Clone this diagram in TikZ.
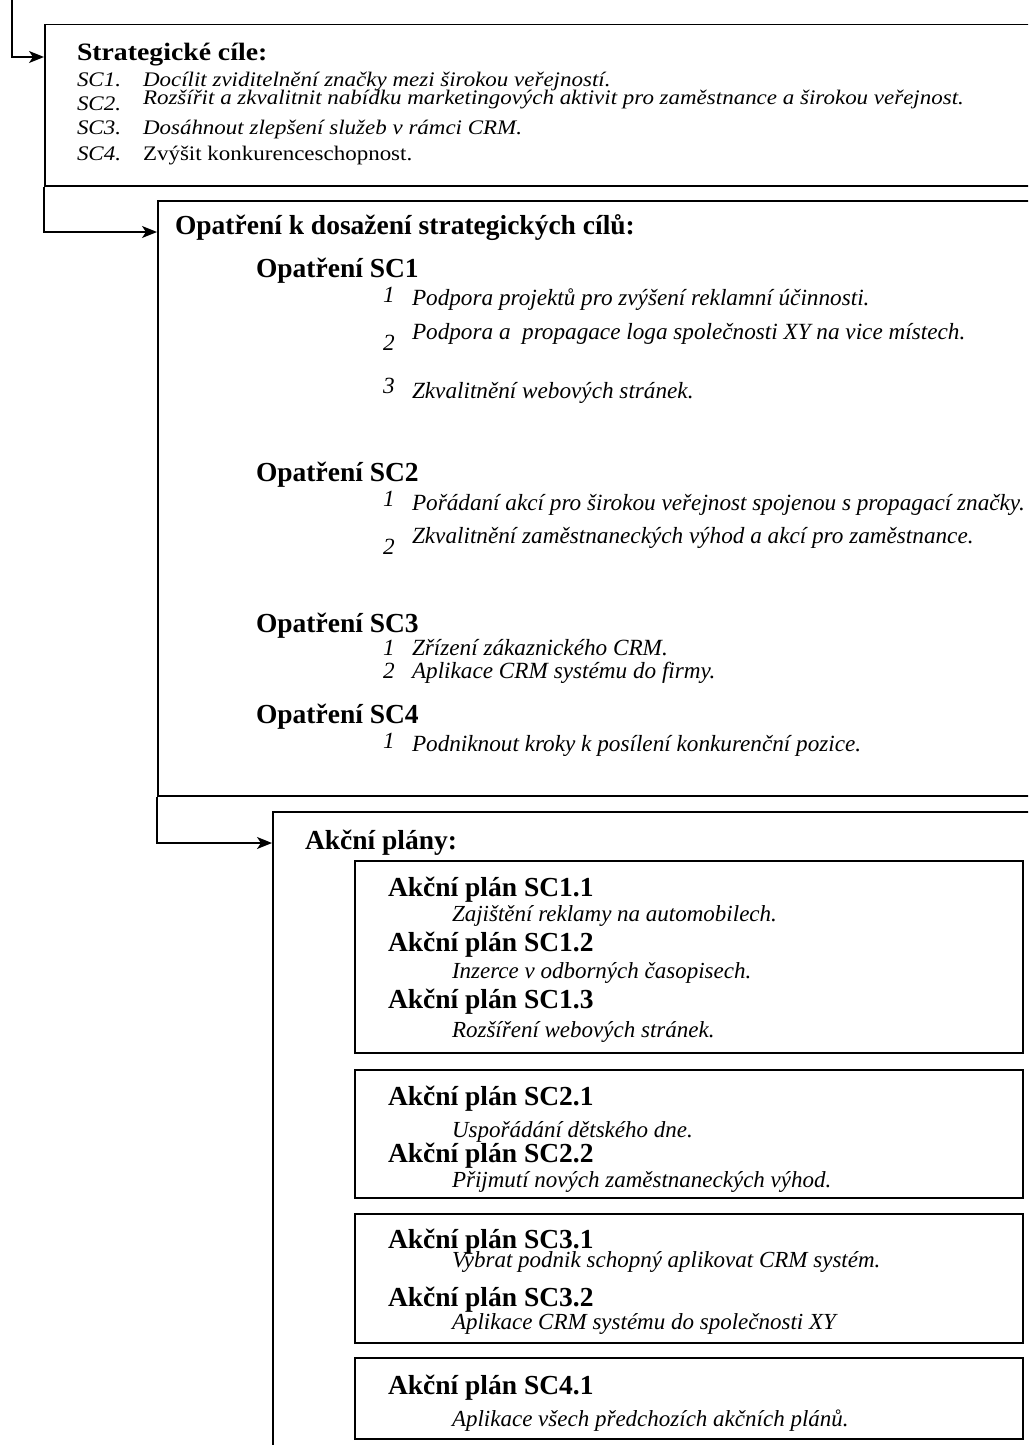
\documentclass[tikz,border=0pt]{standalone}
\usepackage{fontspec}
\setmainfont{Liberation Serif}
\newfontfamily\wideserif[FakeStretch=1.11]{Liberation Serif}
\usetikzlibrary{arrows.meta,calc}
\newcommand\fHd{\fontsize{27.5}{30}\selectfont\bfseries}
\newcommand\fHa{\wideserif\fontsize{25}{30}\selectfont\bfseries}
\newcommand\fIa{\wideserif\fontsize{20.7}{24}\selectfont\itshape}
\newcommand\fRa{\wideserif\fontsize{20.7}{24}\selectfont}
\newcommand\fIb{\fontsize{23.2}{26}\selectfont\itshape}
\newcommand\fIc{\fontsize{23}{26}\selectfont\itshape}
\tikzset{
  box/.style={draw, line width=1.5pt, inner sep=0pt, anchor=north west},
  lbl/.style={anchor=base west, inner sep=0pt, outer sep=0pt},
  arr/.style={line width=1.5pt, -{Stealth[length=15pt,width=12pt,inset=4pt]}},
}
\begin{document}
\begin{tikzpicture}[x=1pt,y=-1pt]
\useasboundingbox (0,0) rectangle (1028,1445);
\clip (0,0) rectangle (1028,1445);
% boxes
\node[box, minimum width=1010pt, minimum height=161pt] (b1) at (44,24) {};
\node[box, minimum width=900pt, minimum height=595pt] (b2) at (157,200) {};
\node[box, minimum width=790pt, minimum height=660pt] (b3) at (272,811) {};
\node[box, minimum width=668pt, minimum height=192pt] (p1) at (354,860) {};
\node[box, minimum width=668pt, minimum height=128pt] (p2) at (354,1069) {};
\node[box, minimum width=668pt, minimum height=129pt] (p3) at (354,1213) {};
\node[box, minimum width=668pt, minimum height=81pt] (p4) at (354,1357) {};
% connectors
\coordinate (start) at (12,-3);
\draw[arr] (start) |- ($(b1.north west)+(0,33)$);
\draw[arr] (b1.south west) |- ($(b2.north west)+(0,32)$);
\draw[arr] (b2.south west) |- ($(b3.north west)+(0,32)$);
% box 1
\node[lbl] (a0) at (77,60) {\fHa Strategické cíle:};
\node[lbl] (a1n) at (77,86) {\fIa SC1.};
\node[lbl] (a1t) at (143,86) {\fIa Docílit zviditelnění značky mezi širokou veřejností.};
\node[lbl] (a2n) at (77,110) {\fIa SC2.};
\node[lbl] (a2t) at (143,104) {\fIa Rozšířit a zkvalitnit nabídku marketingových aktivit pro zaměstnance a širokou veřejnost.};
\node[lbl] (a3n) at (77,134) {\fIa SC3.};
\node[lbl] (a3t) at (143,134) {\fIa Dosáhnout zlepšení služeb v rámci CRM.};
\node[lbl] (a4n) at (77,160) {\fIa SC4.};
\node[lbl] (a4t) at (143,160) {\fRa Zvýšit konkurenceschopnost.};
% box 2
\node[lbl] (o0) at (175,234) {\fHd Opatření k dosažení strategických cílů:};
\node[lbl] (o1) at (256,277) {\fHd Opatření SC1};
\node[lbl] (o11n) at (383,302) {\fIb 1};
\node[lbl] (o11t) at (412,305) {\fIb Podpora projektů pro zvýšení reklamní účinnosti.};
\node[lbl] (o12n) at (383,350) {\fIb 2};
\node[lbl] (o12t) at (412,339) {\fIb Podpora a~~propagace loga společnosti XY na vice místech.};
\node[lbl] (o13n) at (383,393) {\fIb 3};
\node[lbl] (o13t) at (412,398) {\fIb Zkvalitnění webových stránek.};
\node[lbl] (o2) at (256,481) {\fHd Opatření SC2};
\node[lbl] (o21n) at (383,506) {\fIb 1};
\node[lbl] (o21t) at (412,510) {\fIb Pořádaní akcí pro širokou veřejnost spojenou s propagací značky.};
\node[lbl] (o22n) at (383,554) {\fIb 2};
\node[lbl] (o22t) at (412,543) {\fIb Zkvalitnění zaměstnaneckých výhod a akcí pro zaměstnance.};
\node[lbl] (o3) at (256,632) {\fHd Opatření SC3};
\node[lbl] (o31n) at (383,655) {\fIb 1};
\node[lbl] (o31t) at (412,655) {\fIb Zřízení zákaznického CRM.};
\node[lbl] (o32n) at (383,678) {\fIb 2};
\node[lbl] (o32t) at (412,678) {\fIb Aplikace CRM systému do firmy.};
\node[lbl] (o4) at (256,723) {\fHd Opatření SC4};
\node[lbl] (o41n) at (383,748) {\fIb 1};
\node[lbl] (o41t) at (412,751) {\fIb Podniknout kroky k posílení konkurenční pozice.};
% box 3
\node[lbl] (k0) at (305,849) {\fHd Akční plány:};
\node[lbl] (k11) at (388,896) {\fHd Akční plán SC1.1};
\node[lbl] (k11t) at (452,921) {\fIc Zajištění reklamy na automobilech.};
\node[lbl] (k12) at (388,951) {\fHd Akční plán SC1.2};
\node[lbl] (k12t) at (452,978) {\fIc Inzerce v odborných časopisech.};
\node[lbl] (k13) at (388,1008) {\fHd Akční plán SC1.3};
\node[lbl] (k13t) at (452,1037) {\fIc Rozšíření webových stránek.};
\node[lbl] (k21) at (388,1105) {\fHd Akční plán SC2.1};
\node[lbl] (k21t) at (452,1137) {\fIc Uspořádání dětského dne.};
\node[lbl] (k22) at (388,1162) {\fHd Akční plán SC2.2};
\node[lbl] (k22t) at (452,1187) {\fIc Přijmutí nových zaměstnaneckých výhod.};
\node[lbl] (k31) at (388,1248) {\fHd Akční plán SC3.1};
\node[lbl] (k31t) at (452,1267) {\fIc Vybrat podnik schopný aplikovat CRM systém.};
\node[lbl] (k32) at (388,1306) {\fHd Akční plán SC3.2};
\node[lbl] (k32t) at (452,1329) {\fIc Aplikace CRM systému do společnosti XY};
\node[lbl] (k41) at (388,1394) {\fHd Akční plán SC4.1};
\node[lbl] (k41t) at (452,1426) {\fIc Aplikace všech předchozích akčních plánů.};
\end{tikzpicture}
\end{document}
